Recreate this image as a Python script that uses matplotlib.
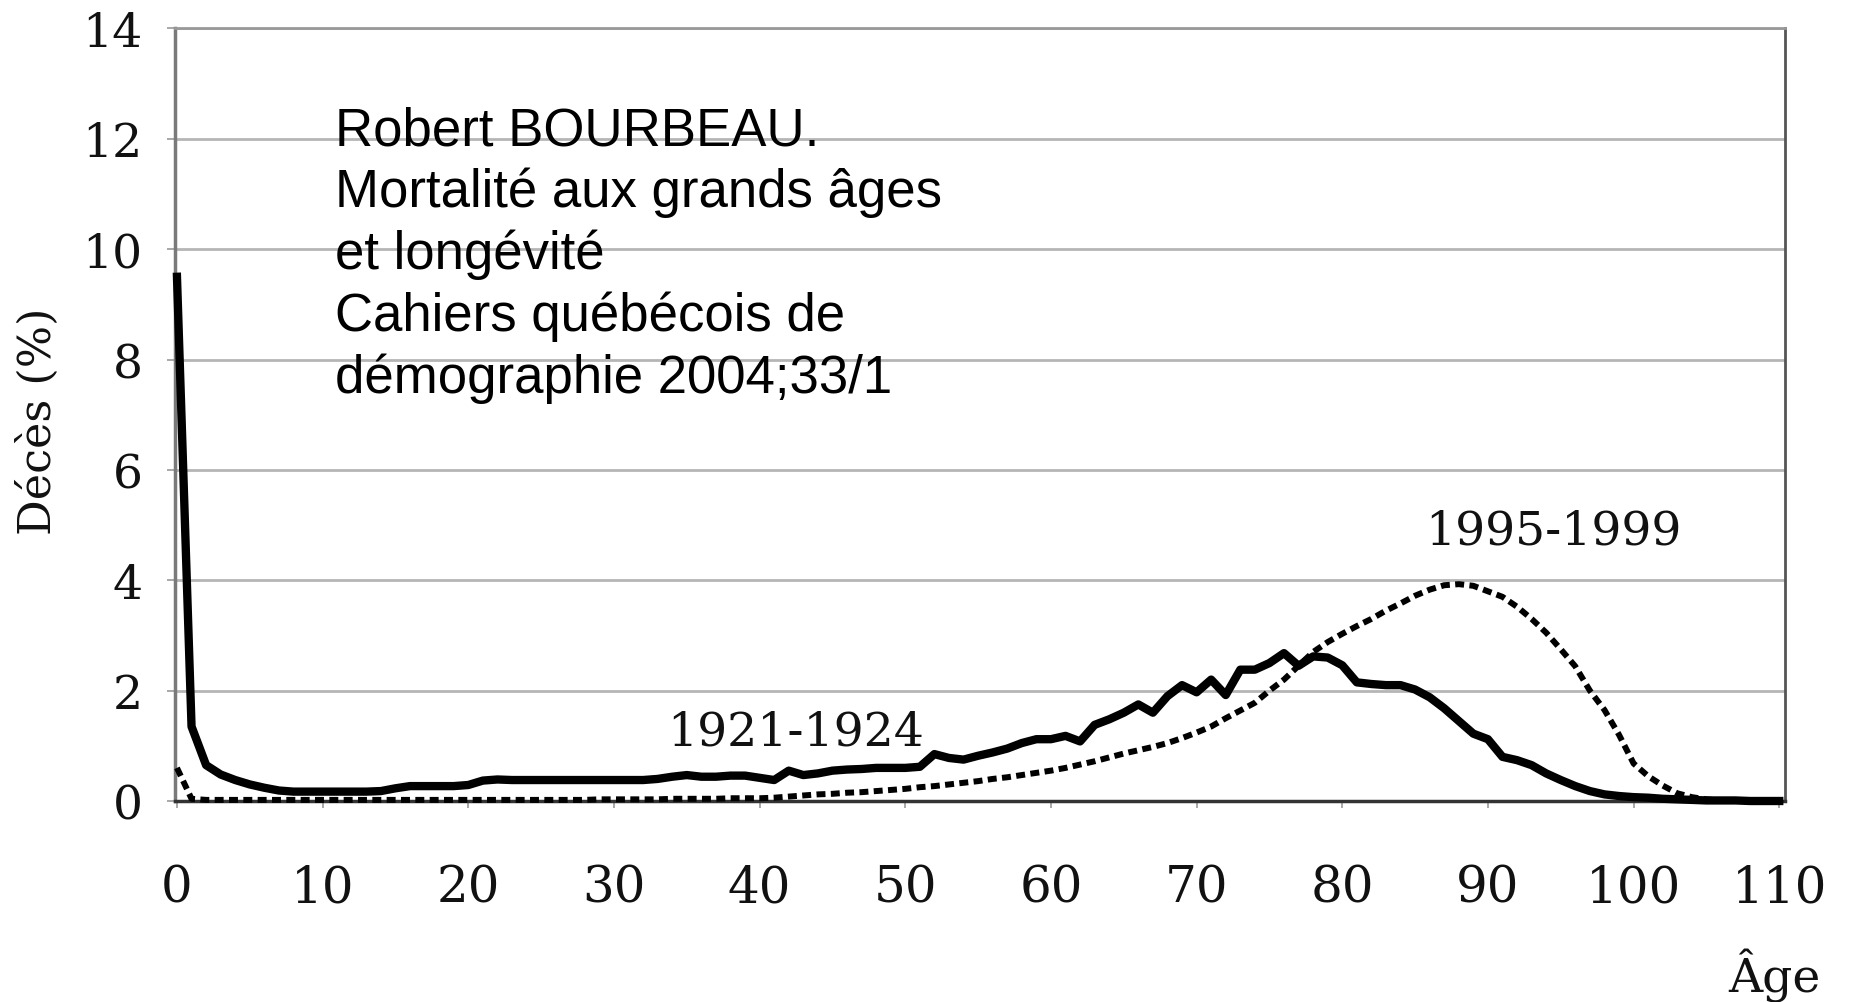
import numpy as np
import matplotlib
matplotlib.use("Agg")
import matplotlib.pyplot as plt

# -------------------------
# Data
# -------------------------
ages = list(range(0, 111))

deaths_1921_1924 = [
    9.5, 1.35, 0.65, 0.48, 0.38, 0.30, 0.24, 0.19, 0.17, 0.17,   # 0-9
    0.17, 0.17, 0.17, 0.17, 0.18, 0.23, 0.27, 0.27, 0.27, 0.27,  # 10-19
    0.29, 0.37, 0.39, 0.38, 0.38, 0.38, 0.38, 0.38, 0.38, 0.38,  # 20-29
    0.38, 0.38, 0.38, 0.40, 0.44, 0.47, 0.44, 0.44, 0.46, 0.46,  # 30-39
    0.42, 0.38, 0.55, 0.47, 0.50, 0.55, 0.57, 0.58, 0.60, 0.60,  # 40-49
    0.60, 0.62, 0.85, 0.78, 0.75, 0.82, 0.88, 0.95, 1.05, 1.12,  # 50-59
    1.12, 1.18, 1.08, 1.38, 1.48, 1.60, 1.75, 1.60, 1.90, 2.10,  # 60-69
    1.97, 2.20, 1.92, 2.38, 2.38, 2.50, 2.68, 2.45, 2.62, 2.60,  # 70-79
    2.46, 2.15, 2.12, 2.10, 2.10, 2.02, 1.88, 1.68, 1.45, 1.22,  # 80-89
    1.12, 0.80, 0.74, 0.65, 0.50, 0.38, 0.27, 0.18, 0.12, 0.09,  # 90-99
    0.07, 0.06, 0.04, 0.03, 0.02, 0.01, 0.01, 0.01, 0.0, 0.0,    # 100-109
    0.0,                                                          # 110
]

deaths_1995_1999 = [
    0.60, 0.04, 0.02, 0.02, 0.02, 0.02, 0.02, 0.02, 0.02, 0.02,  # 0-9
    0.02, 0.02, 0.02, 0.02, 0.02, 0.02, 0.02, 0.02, 0.02, 0.02,  # 10-19
    0.02, 0.02, 0.02, 0.02, 0.02, 0.02, 0.02, 0.02, 0.02, 0.03,  # 20-29
    0.03, 0.03, 0.03, 0.03, 0.04, 0.04, 0.04, 0.04, 0.05, 0.05,  # 30-39
    0.05, 0.06, 0.08, 0.10, 0.12, 0.13, 0.15, 0.16, 0.18, 0.20,  # 40-49
    0.22, 0.25, 0.27, 0.30, 0.33, 0.36, 0.40, 0.43, 0.47, 0.51,  # 50-59
    0.55, 0.60, 0.66, 0.72, 0.79, 0.86, 0.92, 0.98, 1.05, 1.14,  # 60-69
    1.24, 1.35, 1.50, 1.64, 1.78, 2.00, 2.20, 2.45, 2.70, 2.88,  # 70-79
    3.03, 3.17, 3.30, 3.45, 3.58, 3.72, 3.83, 3.91, 3.93, 3.90,  # 80-89
    3.80, 3.70, 3.52, 3.30, 3.05, 2.75, 2.44, 2.00, 1.65, 1.20,  # 90-99
    0.68, 0.45, 0.28, 0.14, 0.07, 0.03, 0.01, 0.01, 0.0, 0.0,    # 100-109
    0.0,                                                          # 110
]

x_ticks = [0, 10, 20, 30, 40, 50, 60, 70, 80, 90, 100, 110]
y_ticks = [0, 2, 4, 6, 8, 10, 12, 14]

source_text = ("Robert BOURBEAU.\n"
               "Mortalité aux grands âges\n"
               "et longévité\n"
               "Cahiers québécois de\n"
               "démographie 2004;33/1")

# -------------------------
# Figure
# -------------------------
serif = ["DejaVu Serif"]
fig = plt.figure(figsize=(18.5, 10.03), dpi=100)
ax = fig.add_axes([0.0944, 0.2004, 0.8705, 0.7702])

ax.plot(ages, deaths_1995_1999, color="black", linewidth=4.3,
        linestyle=(0, (1.5, 0.9)), solid_capstyle="butt", clip_on=False, zorder=3)
ax.plot(ages, deaths_1921_1924, color="black", linewidth=6,
        solid_joinstyle="round", clip_on=False, zorder=4)

ax.set_xlim(-0.16, 110.4)
ax.set_ylim(0, 14)
ax.set_xticks(x_ticks)
ax.set_yticks(y_ticks)

ax.grid(True, axis="y", color="#b5b5b5", linewidth=2)
ax.set_axisbelow(True)

for lab in ax.get_xticklabels():
    lab.set_fontfamily(serif)
for lab in ax.get_yticklabels():
    lab.set_fontfamily(serif)
ax.tick_params(axis="x", labelsize=36, length=5, width=1.2, color="#999999",
               pad=40, labelcolor="#111111")
ax.tick_params(axis="y", labelsize=34, length=6, width=1.2, color="#999999",
               pad=17, labelcolor="#111111")

ax.spines["left"].set_color("#7a7a7a")
ax.spines["left"].set_linewidth(2.5)
ax.spines["bottom"].set_color("#333333")
ax.spines["bottom"].set_linewidth(2.5)
ax.spines["right"].set_color("#555555")
ax.spines["right"].set_linewidth(2)
ax.spines["top"].set_color("#999999")
ax.spines["top"].set_linewidth(2)

# curve labels
ax.text(42.5, 1.02, "1921-1924", fontsize=34, family=serif,
        ha="center", va="baseline", color="#111111")
ax.text(94.5, 4.66, "1995-1999", fontsize=34, family=serif,
        ha="center", va="baseline", color="#111111")

# source note
fig.text(0.181, 0.8943, source_text, fontsize=38, family="Liberation Sans",
         ha="left", va="top", linespacing=1.29, color="black")

# axis titles
fig.text(0.021, 0.58, "Décès (%)", fontsize=32, family=serif,
         rotation=90, ha="center", va="center", color="#111111")
fig.text(0.959, 0.027, "Âge", fontsize=34, family=serif,
         ha="center", va="center", color="#111111")

fig.savefig("out.png", dpi=100, facecolor="white")
